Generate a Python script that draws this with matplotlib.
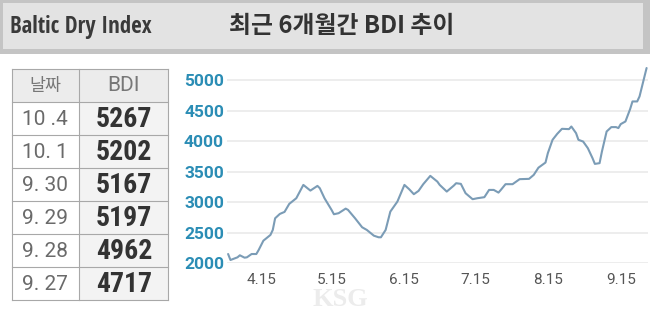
import matplotlib
matplotlib.use("Agg")
import matplotlib.pyplot as plt
import matplotlib.dates as mdates
from matplotlib.patches import Rectangle
import numpy as np
import pandas as pd

# ---------------- data ----------------
title_left = "Baltic Dry Index"
title_main = "최근 6개월간 BDI 추이"
table_header = ["날짜", "BDI"]
table_dates = ["10 .4", "10. 1", "9. 30", "9. 29", "9. 28", "9. 27"]
table_values = [5267, 5202, 5167, 5197, 4962, 4717]

series_dates = [
    "2021-04-01", "2021-04-02", "2021-04-05", "2021-04-06", "2021-04-08", "2021-04-09",
    "2021-04-11", "2021-04-13", "2021-04-14", "2021-04-16", "2021-04-19", "2021-04-20",
    "2021-04-21", "2021-04-23", "2021-04-25", "2021-04-27", "2021-04-30", "2021-05-03",
    "2021-05-06", "2021-05-09", "2021-05-10", "2021-05-12", "2021-05-15", "2021-05-16",
    "2021-05-18", "2021-05-21", "2021-05-22", "2021-05-25", "2021-05-28", "2021-05-30",
    "2021-06-02", "2021-06-04", "2021-06-05", "2021-06-07", "2021-06-09", "2021-06-12",
    "2021-06-15", "2021-06-17", "2021-06-19", "2021-06-21", "2021-06-23", "2021-06-26",
    "2021-06-29", "2021-06-30", "2021-07-03", "2021-07-06", "2021-07-07", "2021-07-09",
    "2021-07-11", "2021-07-14", "2021-07-16", "2021-07-19", "2021-07-21", "2021-07-23",
    "2021-07-25", "2021-07-26", "2021-07-28", "2021-07-31", "2021-08-03", "2021-08-07",
    "2021-08-09", "2021-08-11", "2021-08-14", "2021-08-15", "2021-08-17", "2021-08-19",
    "2021-08-21", "2021-08-24", "2021-08-25", "2021-08-27", "2021-08-28", "2021-08-30",
    "2021-09-01", "2021-09-03", "2021-09-04", "2021-09-06", "2021-09-07", "2021-09-09",
    "2021-09-11", "2021-09-13", "2021-09-14", "2021-09-15", "2021-09-17", "2021-09-19",
    "2021-09-20", "2021-09-22", "2021-09-23", "2021-09-26",
]
series_values = [
    2152, 2054, 2098, 2131, 2092, 2098,
    2152, 2152, 2218, 2370, 2464, 2546,
    2737, 2808, 2841, 2972, 3065, 3283,
    3190, 3267, 3229, 3065, 2874, 2803,
    2820, 2895, 2874, 2737, 2590, 2546,
    2452, 2426, 2426, 2546, 2846, 3010,
    3283, 3213, 3131, 3185, 3295, 3431,
    3337, 3283, 3174, 3272, 3311, 3300,
    3147, 3049, 3065, 3082, 3201, 3201,
    3157, 3201, 3295, 3295, 3377, 3382,
    3447, 3565, 3649, 3803, 4021, 4119,
    4201, 4196, 4239, 4130, 4021, 3993,
    3885, 3721, 3627, 3639, 3829, 4157,
    4229, 4229, 4213, 4278, 4321, 4524,
    4649, 4649, 4731, 5196,
]
xtick_dates = ["2021-04-15", "2021-05-15", "2021-06-15", "2021-07-15", "2021-08-15", "2021-09-15"]
xtick_labels = ["4.15", "5.15", "6.15", "7.15", "8.15", "9.15"]
ytick_values = [2000, 2500, 3000, 3500, 4000, 4500, 5000]
watermark = "KSG"

# ---------------- figure ----------------
W, H = 650, 313
fig = plt.figure(figsize=(W / 100, H / 100), dpi=100)
fig.patch.set_facecolor("white")

# overlay axes in pixel coordinates (y down)
bg = fig.add_axes([0, 0, 1, 1])
bg.set_xlim(0, W)
bg.set_ylim(H, 0)
bg.axis("off")

# header band
bg.add_patch(Rectangle((0, 0), W, 54, facecolor="#c4c4c4", edgecolor="none"))
bg.add_patch(Rectangle((3, 3), W - 10, 46, facecolor="#e3e3e3", edgecolor="none"))
bg.text(10, 27, title_left, ha="left", va="center", fontsize=16.5, color="#3a3a3a",
        family=["Open Sans Condensed", "Asap Condensed", "Open Sans"], fontweight="semibold")
bg.text(342, 26, title_main, ha="center", va="center", fontsize=17.2, color="#333333",
        family=["Noto Sans CJK KR", "DejaVu Sans"], fontweight="bold")

# table
tx0, tx1, tx2 = 12, 79, 168
ty0, rh = 69, 33
nrows = len(table_dates) + 1
bg.add_patch(Rectangle((tx0, ty0), tx2 - tx0, rh, facecolor="#ececec", edgecolor="none"))
bg.add_patch(Rectangle((tx1, ty0 + rh), tx2 - tx1, rh * (nrows - 1), facecolor="#f3f3f3", edgecolor="none"))
for i in range(nrows + 1):
    bg.plot([tx0, tx2], [ty0 + i * rh, ty0 + i * rh], color="#a8a8a8", lw=0.8)
for xx in (tx0, tx1, tx2):
    bg.plot([xx, xx], [ty0, ty0 + nrows * rh], color="#a8a8a8", lw=0.8)
cjk = ["Noto Sans CJK KR", "DejaVu Sans"]
bg.text((tx0 + tx1) / 2, ty0 + rh / 2, table_header[0], ha="center", va="center",
        fontsize=12.5, color="#777777", family=cjk)
bg.text((tx1 + tx2) / 2, ty0 + rh / 2, table_header[1], ha="center", va="center",
        fontsize=15, color="#777777", family=["Roboto", "DejaVu Sans"])
for i, (d, v) in enumerate(zip(table_dates, table_values)):
    yc = ty0 + (i + 1.5) * rh + 1
    bg.text((tx0 + tx1) / 2 - 0.5, yc, d, ha="center", va="center", fontsize=15,
            color="#6a6a6a", family=["Roboto", "DejaVu Sans"])
    bg.text((tx1 + tx2) / 2 + 0.5, yc, str(v), ha="center", va="center", fontsize=20,
            color="#333333", family=["Roboto Condensed", "Barlow Semi Condensed", "Roboto"],
            fontweight="bold")

# chart axes
ax_l, ax_r, ax_t, ax_b = 226.7, 648, 58, 263.3
ax = fig.add_axes([ax_l / W, 1 - ax_b / H, (ax_r - ax_l) / W, (ax_b - ax_t) / H])
ax.patch.set_alpha(0)
x = pd.to_datetime(series_dates)
ax.plot(x, series_values, color="#7b9cb6", lw=1.5, solid_joinstyle="round",
        solid_capstyle="round", zorder=3)
ax.set_ylim(2000, 2000 + (ax_b - ax_t) / 61.1 * 1000)
ax.set_xlim(mdates.date2num(x[0]) - 0.6, mdates.date2num(x[-1]) + 0.6)
ax.set_yticks(ytick_values)
ax.set_xticks(pd.to_datetime(xtick_dates))
ax.set_xticklabels(xtick_labels)
for s in ax.spines.values():
    s.set_visible(False)
ax.grid(axis="y", color="#e8e8e8", lw=1.1, zorder=0)
ax.tick_params(axis="both", length=0)
ax.tick_params(axis="y", pad=2, labelsize=12.5, labelcolor="#2b8db5")
ax.tick_params(axis="x", pad=7, labelsize=11, labelcolor="#555555")
for lab in ax.get_yticklabels():
    lab.set_family(["Roboto", "DejaVu Sans"])
    lab.set_fontweight("bold")
for lab in ax.get_xticklabels():
    lab.set_family(["Roboto", "DejaVu Sans"])

# faint watermark
bg.text(340, 299, watermark, ha="center", va="center", fontsize=19, color="#ececec",
        family=["Liberation Serif", "DejaVu Serif"], fontweight="bold", zorder=0)

fig.savefig("out.png", dpi=100)
